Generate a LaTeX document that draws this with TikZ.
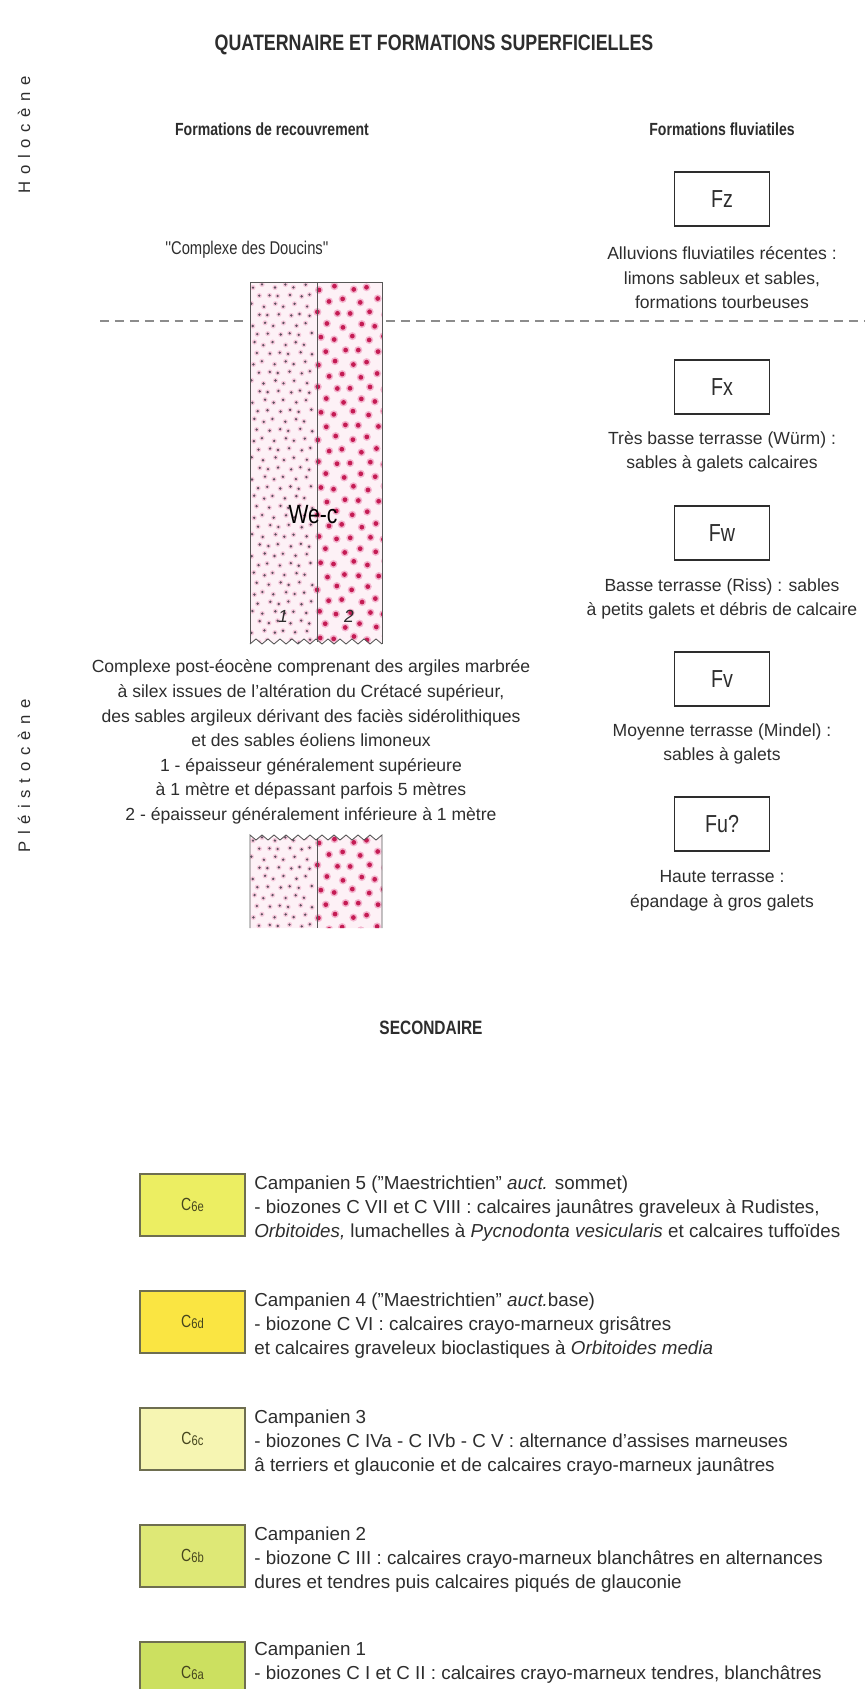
\documentclass[tikz,border=0pt]{standalone}
\usepackage{fontspec}
\setmainfont{Liberation Sans}
\newfontfamily\condfont{Liberation Sans}[FakeStretch=0.8]
\newfontfamily\spacedfont{Liberation Sans}[LetterSpace=40]
\usetikzlibrary{positioning, calc}
\definecolor{inkgray}{RGB}{45,45,45}
\definecolor{dashgray}{RGB}{140,140,140}
\definecolor{wepink}{RGB}{253,241,246}
\definecolor{wehalo}{RGB}{244,180,206}
\definecolor{wegray}{RGB}{95,80,95}
\definecolor{wered}{RGB}{196,28,84}
\definecolor{campfive}{RGB}{236,238,98}
\definecolor{campfour}{RGB}{250,229,66}
\definecolor{campthree}{RGB}{246,245,178}
\definecolor{camptwo}{RGB}{222,232,118}
\definecolor{campone}{RGB}{204,224,96}
\definecolor{campedge}{RGB}{110,110,80}
\definecolor{camplabel}{RGB}{70,70,30}

% dots of the We-c column: #1 top, #2 fine rows, #3 coarse rows
\newcommand{\sanddots}[3]{%
  \foreach \r in {0,...,#2}{
    \foreach \c in {0,...,5}{
      \pgfmathsetmacro{\sdx}{253+10.5*\c+5.2*mod(\r,2)+1.6*sin(137*\r+251*\c)}
      \pgfmathsetmacro{\sdy}{#1+4+9.6*\r+1.6*cos(89*\r+173*\c)}
      \fill[wehalo!70] (\sdx,\sdy) circle (1.5pt);
      \fill[wegray] (\sdx,\sdy) circle (0.75pt);
    }
  }
  \foreach \r in {0,...,#3}{
    \foreach \c in {0,...,4}{
      \pgfmathsetmacro{\sdx}{319+16.5*\c+8.2*mod(\r,2)+2*sin(117*\r+211*\c)}
      \pgfmathsetmacro{\sdy}{#1+6+12.5*\r+2*cos(61*\r+157*\c)}
      \fill[wehalo] (\sdx,\sdy) circle (2.3pt);
      \fill[wered] (\sdx,\sdy) circle (1.35pt);
    }
  }
}
\newcommand{\sixsub}[1]{\raisebox{-0.15ex}{\fontsize{8}{8}\selectfont #1}}

\tikzset{
  bigtitle/.style={font=\condfont\bfseries\fontsize{12.7}{14}\selectfont, text=inkgray},
  header/.style={font=\condfont\bfseries\fontsize{10}{12}\selectfont, text=inkgray},
  epoch/.style={rotate=90, font=\spacedfont\fontsize{9.5}{11}\selectfont, text=inkgray},
  limit/.style={dashgray, line width=0.7pt, dash pattern=on 5pt off 3.5pt},
  fbox/.style={draw=inkgray, line width=0.6pt, fill=white, minimum width=1.9cm, minimum height=1.08cm, font=\condfont\fontsize{14}{16}\selectfont, text=inkgray},
  fdesc/.style={align=center, font=\fontsize{10}{14}\selectfont, text=inkgray},
  colline/.style={draw=inkgray!80, line width=0.5pt},
  welabel/.style={font=\condfont\fontsize{15}{17}\selectfont, text=black, inner sep=1pt},
  wenum/.style={font=\itshape\fontsize{10}{12}\selectfont, text=inkgray, inner sep=1pt},
  campbox/.style={draw=campedge, line width=0.7pt, minimum width=2.1cm, minimum height=1.24cm, font=\condfont\fontsize{10}{12}\selectfont, text=camplabel},
  campdesc/.style={anchor=north west, inner sep=0pt, align=left, font=\fontsize{10.7}{13.6}\selectfont, text=inkgray}
}

\begin{document}
\begin{tikzpicture}[x=0.02cm, y=-0.02cm]
  \useasboundingbox (0,0) rectangle (865,1689);

  % Titles
  \node[bigtitle] (quaternaire) at (434,45) {QUATERNAIRE ET FORMATIONS SUPERFICIELLES};
  \node[header] (recouvrement) at (272,129) {Formations de recouvrement};
  \node[header] (fluviatiles) at (722,129) {Formations fluviatiles};

  % Epochs
  \node[epoch] (holocene) at (24,135) {Holocène};
  \node[epoch] (pleistocene) at (24,776) {Pléistocène};

  % Holocene / Pleistocene limit
  \draw[limit] (100,321) -- (246,321);
  \draw[limit] (386,321) -- (865,321);

  % Fluviatile formations
  \node[fbox] (fz) at (722,199) {Fz};
  \node[fdesc] (fzdesc) at (722,278) {Alluvions fluviatiles récentes :\\limons sableux et sables,\\formations tourbeuses};
  \node[fbox] (fx) at (722,387) {Fx};
  \node[fdesc] (fxdesc) at (722,452) {Très basse terrasse (Würm) :\\sables à galets calcaires};
  \node[fbox] (fw) at (722,533) {Fw};
  \node[fdesc] (fwdesc) at (722,599) {Basse terrasse (Riss) : sables\\à petits galets et débris de calcaire};
  \node[fbox] (fv) at (722,679) {Fv};
  \node[fdesc] (fvdesc) at (722,744) {Moyenne terrasse (Mindel) :\\sables à galets};
  \node[fbox] (fu) at (722,824) {Fu?};
  \node[fdesc] (fudesc) at (722,891) {Haute terrasse :\\épandage à gros galets};

  % Complexe des Doucins
  \node[fdesc, font=\condfont\fontsize{10.5}{14}\selectfont] (doucins) at (247,250) {''Complexe des Doucins''};

  % Column We-c
  \begin{scope}
    \clip (250,282) -- (382,282) -- (382,644)
      \foreach \k in {1,...,22} { -- ({382-6*\k},{644-5*mod(\k,2)}) } -- cycle;
    \fill[wepink] (245,276) rectangle (390,650);
    \sanddots{282}{38}{29}
  \end{scope}
  \draw[colline] (250,644) -- (250,282) -- (382,282) -- (382,644);
  \draw[colline] (317,282) -- (317,642);
  \draw[colline] (382,644) \foreach \k in {1,...,22} { -- ({382-6*\k},{644-5*mod(\k,2)}) };
  \node[welabel] (wec) at (313,515) {We-c};
  \node[wenum] (weone) at (283,616) {1};
  \node[wenum] (wetwo) at (349,616) {2};

  % Post-eocene complex
  \node[fdesc, font=\fontsize{10}{14}\selectfont] (posteocene) at (311,742) {Complexe post-éocène comprenant des argiles marbrée\\à silex issues de l'altération du Crétacé supérieur,\\des sables argileux dérivant des faciès sidérolithiques\\et des sables éoliens limoneux\\1 - épaisseur généralement supérieure\\à 1 mètre et dépassant parfois 5 mètres\\2 - épaisseur généralement inférieure à 1 mètre};

  % Small column
  \begin{scope}
    \clip (250,928) -- (250,835)
      \foreach \k in {1,...,22} { -- ({250+6*\k},{835+5*mod(\k,2)}) } -- (382,928) -- cycle;
    \fill[wepink] (245,830) rectangle (390,935);
    \sanddots{835}{10}{7}
  \end{scope}
  \draw[colline] (250,928) -- (250,835)
    \foreach \k in {1,...,22} { -- ({250+6*\k},{835+5*mod(\k,2)}) } -- (382,928);
  \draw[colline] (317,838) -- (317,928);

  % Secondaire
  \node[bigtitle, font=\condfont\bfseries\fontsize{11}{13}\selectfont] (secondaire) at (431,1028) {SECONDAIRE};

  % Campanien 5
  \node[campbox, fill=campfive] (cse) at (192.5,1205) {C\sixsub{6e}};
  \node[campdesc] (csedesc) at (254,1176) {Campanien 5 (''Maestrichtien'' \textit{auct.} sommet)\\- biozones C VII et C VIII : calcaires jaunâtres graveleux à Rudistes,\\\textit{Orbitoides,} lumachelles à \textit{Pycnodonta vesicularis} et calcaires tuffoïdes};

  % Campanien 4
  \node[campbox, fill=campfour] (csd) at (192.5,1322) {C\sixsub{6d}};
  \node[campdesc] (csddesc) at (254,1293) {Campanien 4 (''Maestrichtien'' \textit{auct.}base)\\- biozone C VI : calcaires crayo-marneux grisâtres\\et calcaires graveleux bioclastiques à \textit{Orbitoides media}};

  % Campanien 3
  \node[campbox, fill=campthree] (csc) at (192.5,1439) {C\sixsub{6c}};
  \node[campdesc] (cscdesc) at (254,1410) {Campanien 3\\- biozones C IVa - C IVb - C V : alternance d'assises marneuses\\â terriers et glauconie et de calcaires crayo-marneux jaunâtres};

  % Campanien 2
  \node[campbox, fill=camptwo] (csb) at (192.5,1556) {C\sixsub{6b}};
  \node[campdesc] (csbdesc) at (254,1527) {Campanien 2\\- biozone C III : calcaires crayo-marneux blanchâtres en alternances\\dures et tendres puis calcaires piqués de glauconie};

  % Campanien 1
  \node[campbox, fill=campone] (csa) at (192.5,1673) {C\sixsub{6a}};
  \node[campdesc] (csadesc) at (254,1642) {Campanien 1\\- biozones C I et C II : calcaires crayo-marneux tendres, blanchâtres};
\end{tikzpicture}
\end{document}
